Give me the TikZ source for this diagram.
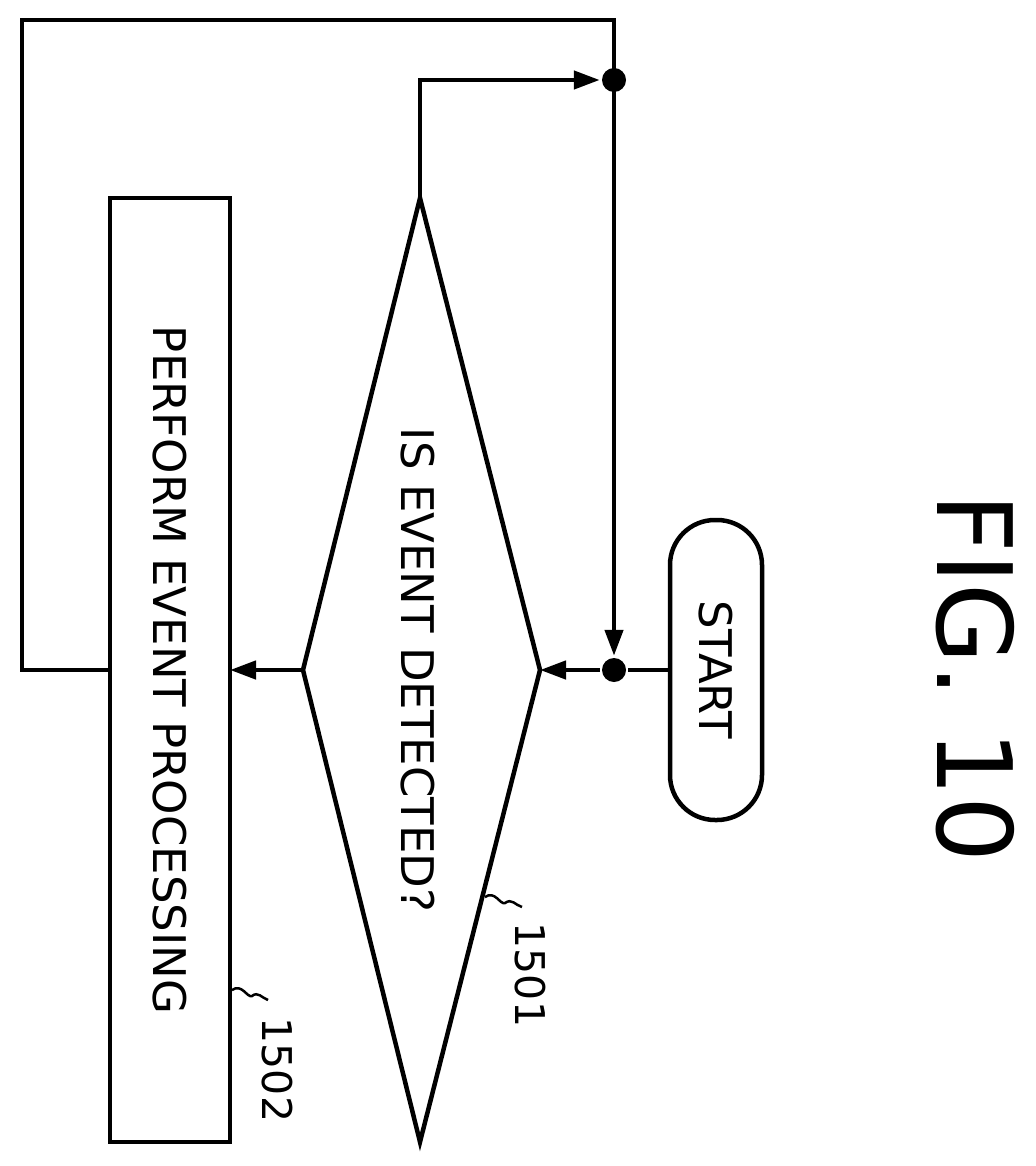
\documentclass[tikz,border=0pt]{standalone}
\usepackage{fontspec}
\setmainfont{DejaVu Sans}
\usetikzlibrary{arrows.meta}
\begin{document}
\begin{tikzpicture}[x=1pt,y=-1pt,line width=4.5pt,
  arr/.style={-{Triangle[length=26pt,width=18pt]}},
  lbl/.style={rotate=-90,font=\fontsize{45}{47}\selectfont},
  num/.style={rotate=-90,font=\fontsize{41}{43}\selectfont},
  dot/.style={circle,fill,inner sep=0pt,minimum size=24pt}]
\useasboundingbox (0,0) rectangle (1035,1166);
\draw[rounded corners=45pt] (670,520) rectangle (762,820);
\node[lbl] (start) at (716,670) {START};
\coordinate (sL) at (670,670);
\draw (420,198) coordinate (dT) -- (540,670) coordinate (dR) -- (420,1142) -- (303,670) coordinate (dL) -- cycle;
\node[lbl] (q) at (418,670) {IS EVENT DETECTED?};
\draw (110,198) rectangle (230,1142);
\coordinate (rR) at (230,670); \coordinate (rL) at (110,670);
\node[lbl] (p) at (170,670) {PERFORM EVENT PROCESSING};
\node[dot] (d1) at (614,670) {};
\node[dot] (d2) at (614,80) {};
\draw (sL) -- (d1);
\draw[arr] (d1) -- (dR);
\draw[arr] (dT) -- (420,80) -- (d2.west);
\draw[arr] (d2.center) -- (d1.north);
\draw[arr] (dL) -- (rR);
\draw (rL) -- (22,670) -- (22,20) -- (614,20) -- (d2.center);
\draw[line width=2.5pt] (485,897) .. controls (495,890) and (500,905) .. (505,903) .. controls (512,898) and (515,905) .. (522,907);
\node[num] (n1) at (530,975) {1501};
\draw[line width=2.5pt] (232,990) .. controls (242,983) and (247,998) .. (252,996) .. controls (258,991) and (262,998) .. (268,1000);
\node[num] (n2) at (277,1070) {1502};
\node[rotate=-90,font=\fontsize{104}{106}\selectfont] (fig) at (975,678) {FIG. 10};
\end{tikzpicture}
\end{document}
